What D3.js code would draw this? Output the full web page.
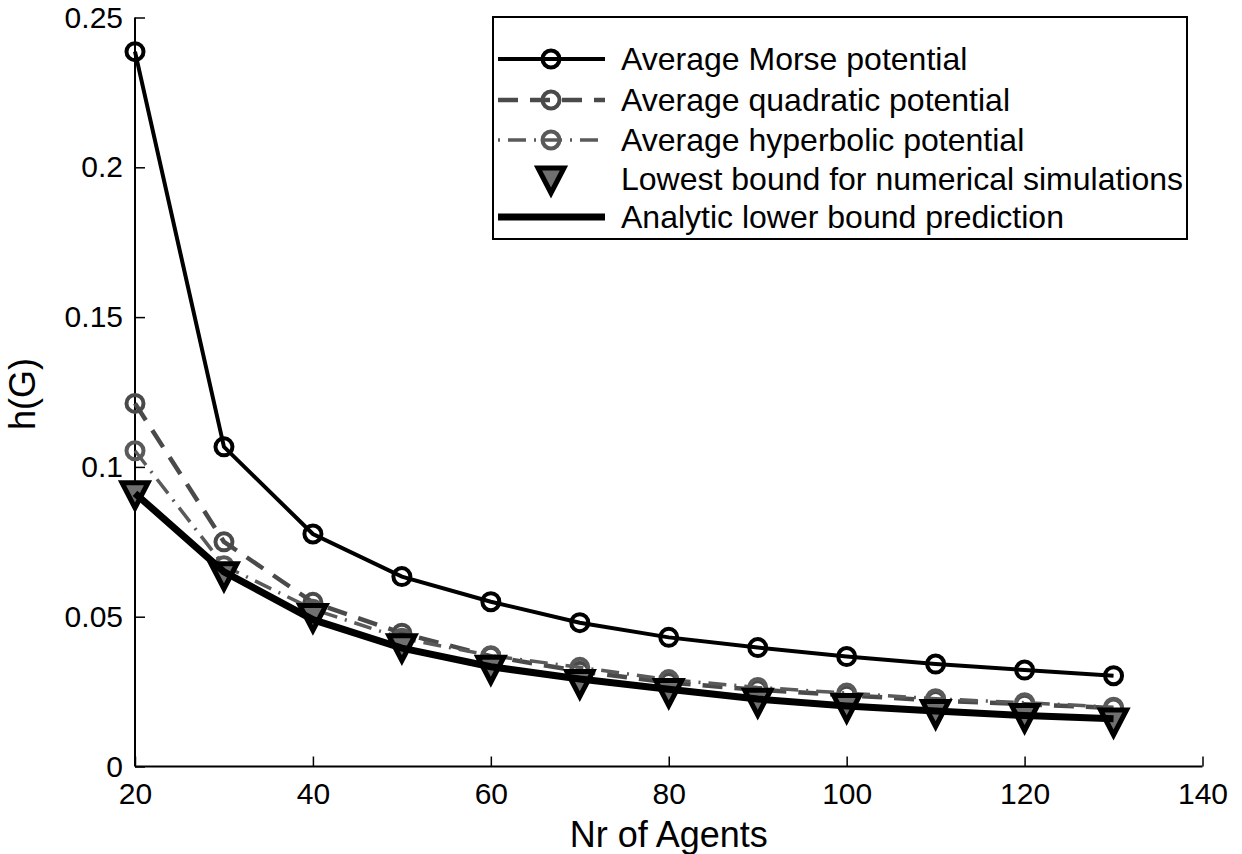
<!DOCTYPE html>
<html>
<head>
<meta charset="utf-8">
<script src="https://cdn.jsdelivr.net/npm/d3@7"></script>
<style>
  html, body { margin: 0; padding: 0; background: #fff; }
  svg text { font-family: "Liberation Sans", Arial, Helvetica, sans-serif; fill: #000; }
</style>
</head>
<body>
<svg id="chart" width="1242" height="854"></svg>
<script>
// ---- data ----
const agents = [20, 30, 40, 50, 60, 70, 80, 90, 100, 110, 120, 130];
const morse = [0.2386, 0.1067, 0.0776, 0.0634, 0.0550, 0.0480, 0.0431, 0.0397, 0.0367, 0.0342, 0.0322, 0.0303];
const quadratic = [0.1212, 0.0750, 0.0548, 0.0445, 0.0368, 0.0318, 0.0280, 0.0256, 0.0238, 0.0220, 0.0208, 0.0195];
const hyperbolic = [0.1054, 0.0670, 0.0525, 0.0428, 0.0370, 0.0331, 0.0290, 0.0264, 0.0245, 0.0226, 0.0213, 0.0198];
const lowestBound = [0.0910, 0.0640, 0.0501, 0.0400, 0.0328, 0.0280, 0.0250, 0.0218, 0.0200, 0.0180, 0.0167, 0.0152];
const analytic = [0.0912, 0.0650, 0.0490, 0.0395, 0.0333, 0.0292, 0.0258, 0.0225, 0.0202, 0.0185, 0.0170, 0.0159];
const xTicks = [20, 40, 60, 80, 100, 120, 140];
const yTicks = [0, 0.05, 0.1, 0.15, 0.2, 0.25];
const yTickLabels = ["0", "0.05", "0.1", "0.15", "0.2", "0.25"];
const legendLabels = ["Average Morse potential", "Average quadratic potential", "Average hyperbolic potential",
  "Lowest bound for numerical simulations", "Analytic lower bound prediction"];

// ---- layout ----
const svg = d3.select("#chart");
const x = d3.scaleLinear().domain([20, 140]).range([135, 1202.5]);
const y = d3.scaleLinear().domain([0, 0.25]).range([766.5, 17.5]);

const quadColor = "#4a4a4a";
const hypColor = "#5a5a5a";

// axes
const xAxis = d3.axisBottom(x).tickValues(xTicks).tickSize(-10).tickPadding(16).tickFormat(d3.format("d"));
const gx = svg.append("g").attr("transform", `translate(0,${y(0)})`).call(xAxis);
gx.select(".domain").attr("stroke", "#000").attr("stroke-width", 2).attr("d", `M${x(20)},0H${x(140)}`);
gx.selectAll(".tick line").attr("stroke", "#000").attr("stroke-width", 1.5);
gx.selectAll(".tick text").attr("font-size", 30).attr("font-family", "Liberation Sans, Arial, sans-serif").attr("dy", "0.71em");

const yAxis = d3.axisLeft(y).tickValues(yTicks).tickSize(-10).tickPadding(12).tickFormat((d, i) => yTickLabels[i]);
const gy = svg.append("g").attr("transform", `translate(${x(20)},0)`).call(yAxis);
gy.select(".domain").attr("stroke", "#000").attr("stroke-width", 2).attr("d", `M0,${y(0)}V${y(0.25)}`);
gy.selectAll(".tick line").attr("stroke", "#000").attr("stroke-width", 1.5);
gy.selectAll(".tick text").attr("font-size", 30).attr("font-family", "Liberation Sans, Arial, sans-serif");

// axis labels
svg.append("text").attr("x", (x(20) + x(140)) / 2).attr("y", 847).attr("text-anchor", "middle")
  .attr("font-size", 36).text("Nr of Agents");
svg.append("text").attr("transform", `translate(35,394) rotate(-90)`).attr("text-anchor", "middle")
  .attr("font-size", 36).text("h(G)");

// ---- series ----
const line = vals => d3.line().x((d, i) => x(agents[i])).y(d => y(d))(vals);
const plot = svg.append("g");

function circles(vals, color, sw) {
  plot.append("g").selectAll("circle").data(vals).join("circle")
    .attr("cx", (d, i) => x(agents[i])).attr("cy", d => y(d)).attr("r", 8.5)
    .attr("fill", "none").attr("stroke", color).attr("stroke-width", sw);
}

// Morse
plot.append("path").attr("d", line(morse)).attr("fill", "none").attr("stroke", "#000").attr("stroke-width", 4);
circles(morse, "#000", 4);
// quadratic
plot.append("path").attr("d", line(quadratic)).attr("fill", "none").attr("stroke", quadColor)
  .attr("stroke-width", 4.5).attr("stroke-dasharray", "20,12");
circles(quadratic, quadColor, 4);
// hyperbolic
plot.append("path").attr("d", line(hyperbolic)).attr("fill", "none").attr("stroke", hypColor)
  .attr("stroke-width", 3.5).attr("stroke-dasharray", "18,8,2,8");
circles(hyperbolic, hypColor, 4);

// triangles
const tri = (cx, cy) => `M${cx - 13},${cy - 11}L${cx + 13},${cy - 11}L${cx},${cy + 14}Z`;
plot.append("g").selectAll("path").data(lowestBound).join("path")
  .attr("d", (d, i) => tri(x(agents[i]), y(d)))
  .attr("fill", "#707070").attr("stroke", "#000").attr("stroke-width", 5).attr("stroke-linejoin", "miter");
// analytic
plot.append("path").attr("d", line(analytic)).attr("fill", "none").attr("stroke", "#000").attr("stroke-width", 7);

// ---- legend ----
const lg = svg.append("g");
lg.append("rect").attr("x", 493).attr("y", 17).attr("width", 694).attr("height", 222)
  .attr("fill", "#fff").attr("stroke", "#000").attr("stroke-width", 2);
const rowsY = [59, 100, 140, 179, 217];
const lx0 = 498, lx1 = 605, lxm = 551, tx = 621;
// Morse
lg.append("line").attr("x1", lx0).attr("x2", lx1).attr("y1", rowsY[0]).attr("y2", rowsY[0]).attr("stroke", "#000").attr("stroke-width", 4);
lg.append("circle").attr("cx", lxm).attr("cy", rowsY[0]).attr("r", 8.5).attr("fill", "none").attr("stroke", "#000").attr("stroke-width", 4);
// quadratic
lg.append("line").attr("x1", lx0).attr("x2", lx1).attr("y1", rowsY[1]).attr("y2", rowsY[1]).attr("stroke", quadColor)
  .attr("stroke-width", 4.5).attr("stroke-dasharray", "20,12");
lg.append("circle").attr("cx", lxm).attr("cy", rowsY[1]).attr("r", 8.5).attr("fill", "none").attr("stroke", quadColor).attr("stroke-width", 4);
// hyperbolic
lg.append("line").attr("x1", lx0).attr("x2", lx1).attr("y1", rowsY[2]).attr("y2", rowsY[2]).attr("stroke", hypColor)
  .attr("stroke-width", 3.5).attr("stroke-dasharray", "2,8,18,8");
lg.append("circle").attr("cx", lxm).attr("cy", rowsY[2]).attr("r", 8.5).attr("fill", "none").attr("stroke", hypColor).attr("stroke-width", 4);
// triangle
lg.append("path").attr("d", tri(lxm, rowsY[3])).attr("fill", "#707070").attr("stroke", "#000").attr("stroke-width", 5);
// analytic
lg.append("line").attr("x1", lx0).attr("x2", lx1).attr("y1", rowsY[4]).attr("y2", rowsY[4]).attr("stroke", "#000").attr("stroke-width", 7);

lg.selectAll("text.lab").data(legendLabels).join("text").attr("class", "lab")
  .attr("x", tx).attr("y", (d, i) => rowsY[i] + 11).attr("font-size", 32).text(d => d);
</script>
</body>
</html>
